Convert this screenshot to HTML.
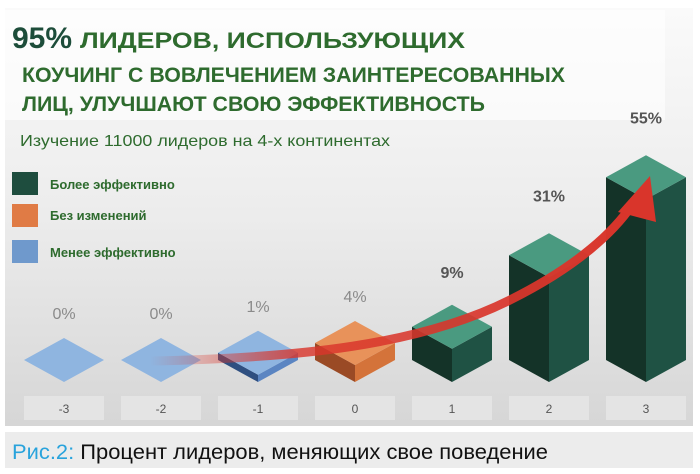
<!DOCTYPE html>
<html><head><meta charset="utf-8"><style>
body{margin:0;width:700px;height:474px;background:#fff;font-family:"Liberation Sans","Noto Sans CJK SC",sans-serif;overflow:hidden}
svg{display:block}
</style></head><body>
<svg width="700" height="474" viewBox="0 0 700 474">
<defs>
<linearGradient id="bg" x1="0" y1="0" x2="0" y2="1"><stop offset="0" stop-color="#fafafa"/><stop offset="0.5" stop-color="#ececec"/><stop offset="1" stop-color="#d6d6d6"/></linearGradient>
<linearGradient id="arr" x1="0" y1="0" x2="1" y2="0"><stop offset="0" stop-color="#d9352b" stop-opacity="0"/><stop offset="0.3" stop-color="#d9352b" stop-opacity="0.8"/><stop offset="1" stop-color="#d9352b"/></linearGradient>
</defs>
<rect x="5" y="8" width="688" height="418" fill="url(#bg)"/>
<rect x="5" y="10" width="660" height="110" fill="#fff" opacity="0.6"/>
<text x="12" y="48" font-size="30" font-weight="bold" fill="#1d4d3a">95%</text>
<text x="80" y="48" font-size="22" font-weight="bold" fill="#2e6b2e" textLength="385" lengthAdjust="spacingAndGlyphs">ЛИДЕРОВ, ИСПОЛЬЗУЮЩИХ</text>
<text x="22" y="82" font-size="21" font-weight="bold" fill="#2e6b2e" textLength="543" lengthAdjust="spacingAndGlyphs">КОУЧИНГ С ВОВЛЕЧЕНИЕМ ЗАИНТЕРЕСОВАННЫХ</text>
<text x="22" y="111" font-size="21" font-weight="bold" fill="#2e6b2e" textLength="463" lengthAdjust="spacingAndGlyphs">ЛИЦ, УЛУЧШАЮТ СВОЮ ЭФФЕКТИВНОСТЬ</text>
<text x="20" y="146" font-size="16" fill="#2e6b2e" textLength="370" lengthAdjust="spacingAndGlyphs">Изучение 11000 лидеров на 4-х континентах</text>
<g>
<rect x="12" y="172" width="26" height="23" fill="#1e4d3e"/>
<text x="50" y="189" font-size="13" font-weight="bold" fill="#2e6b2e">Более эффективно</text>
<rect x="12" y="204" width="26" height="23" fill="#e07b45"/>
<text x="50" y="220" font-size="13" font-weight="bold" fill="#2e6b2e">Без изменений</text>
<rect x="12" y="240" width="26" height="23" fill="#6f99cc"/>
<text x="50" y="257" font-size="13" font-weight="bold" fill="#2e6b2e">Менее эффективно</text>
</g>
<g id="bars"></g>
<path d="M150,361 C300,358 420,345 510,300 C580,265 615,230 632,205" fill="none" stroke="url(#arr)" stroke-width="9"/>
<polygon points="618,212 650,176 656,222" fill="#d9352b"/>
<rect x="5" y="432" width="688" height="36" fill="#ececec"/>
<text x="12" y="459" font-size="21" textLength="536" lengthAdjust="spacingAndGlyphs"><tspan fill="#29a3dc">Рис.2:</tspan><tspan fill="#111"> Процент лидеров, меняющих свое поведение</tspan></text>
</svg>
<script>
const categories=["-3","-2","-1","0","1","2","3"];
const values=[0,0,1,4,9,31,55];
const valueLabels=["0%","0%","1%","4%","9%","31%","55%"];
const groups=["worse","worse","worse","same","better","better","better"];
const pal={worse:["#8fb5e0","#2f4f80","#5b85c2"],same:["#e8925a","#9a4a25","#d4733a"],better:["#4a9a80","#143328","#1f5244"]};
const NS="http://www.w3.org/2000/svg";
const g=document.getElementById("bars");
function xPos(i){return 64+i*97;}
function hPos(v){return v>0?3.25*v+4:0;}
const baseY=360,hw=40,hh=22;
function mk(tag,attrs){const e=document.createElementNS(NS,tag);for(const k in attrs)e.setAttribute(k,attrs[k]);g.appendChild(e);return e;}
categories.forEach((c,i)=>{
 const cx=xPos(i),h=hPos(values[i]),p=pal[groups[i]],ty=baseY-h;
 const box=mk("rect",{x:cx-40,y:396,width:80,height:24,fill:"#e4e4e4"});
 
 
 const ct=mk("text",{x:cx,y:413,"font-size":12,fill:"#555","text-anchor":"middle"});ct.textContent=c;
 
 
 if(h>0){
  const l=mk("polygon",{points:`${cx-hw},${ty} ${cx},${ty+hh} ${cx},${baseY+hh} ${cx-hw},${baseY}`,fill:p[1]});
  
  
  const r=mk("polygon",{points:`${cx},${ty+hh} ${cx+hw},${ty} ${cx+hw},${baseY} ${cx},${baseY+hh}`,fill:p[2]});
  
  
 }
 const t=mk("polygon",{points:`${cx-hw},${ty} ${cx},${ty-hh} ${cx+hw},${ty} ${cx},${ty+hh}`,fill:p[0]});
 
 
 const big=values[i]>=9;
 const lt=mk("text",{x:cx,y:ty-hh-(big?(values[i]>=31?32:27):19),"font-size":16,"font-weight":big?"bold":"normal",fill:big?"#555":"#8a8a8a","text-anchor":"middle"});
 lt.textContent=valueLabels[i];
 
 
});
</script>
</body></html>
